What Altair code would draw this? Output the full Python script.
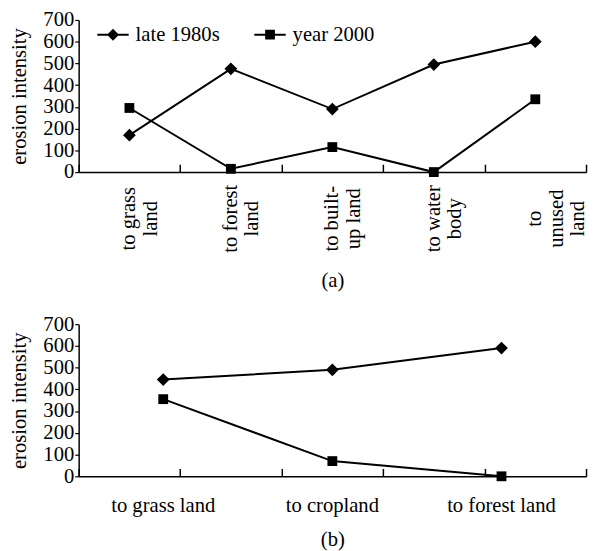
import altair as alt
import pandas as pd

SERIES = ["late 1980s", "year 2000"]

CATS_A = ["to grass|land", "to forest|land", "to built-|up land", "to water|body", "to|unused|land"]
LATE_A = [170, 475, 290, 495, 600]
Y2000_A = [295, 15, 115, 0, 335]

CATS_B = ["to grass land", "to cropland", "to forest land"]
LATE_B = [445, 490, 590]
Y2000_B = [355, 70, 0]

Y_TICKS = [0, 100, 200, 300, 400, 500, 600, 700]
PANEL_TITLES = ["(a)", "(b)"]
Y_TITLE = "erosion intensity"

FONT = "Liberation Serif"
FS = 21
W = 517
H = 155

# legend glyphs: a short line with the marker on it (all filled shapes)
DIAMOND_LEG = "M-1,-0.065H1V0.065H-1ZM0,-0.38L0.38,0L0,0.38L-0.38,0Z"
SQUARE_LEG = "M-1,-0.065H1V0.065H-1ZM-0.31,-0.31H0.31V0.31H-0.31Z"


def long_df(cats, late, y2000):
    rows = []
    for c, v in zip(cats, late):
        rows.append({"category": c, "series": SERIES[0], "value": v})
    for c, v in zip(cats, y2000):
        rows.append({"category": c, "series": SERIES[1], "value": v})
    return pd.DataFrame(rows)


def panel(df, cats, tick_cats, title, rotated):
    xscale = alt.Scale(type="band", domain=cats, paddingInner=0, paddingOuter=0)
    if rotated:
        lab_axis = alt.Axis(labelExpr="split(datum.label, '|')", labelAngle=270,
                            labelAlign="center", labelBaseline="middle",
                            labelPadding=47, labelLineHeight=22, ticks=False, tickSize=0,
                            title=title, titlePadding=18, labelLimit=300)
    else:
        lab_axis = alt.Axis(labelAngle=0, labelAlign="center", labelBaseline="top",
                            labelPadding=19, ticks=False, tickSize=0,
                            title=title, titlePadding=14, labelLimit=300)
    x = alt.X("category:N", sort=cats, scale=xscale, axis=lab_axis)
    y = alt.Y("value:Q", scale=alt.Scale(domain=[0, 700], nice=False),
              axis=alt.Axis(values=Y_TICKS, title=Y_TITLE, grid=False, tickSize=4,
                            labelPadding=1, titlePadding=14))
    base = alt.Chart(df)
    line = base.mark_line(color="black", strokeWidth=2).encode(x=x, y=y, detail="series:N")
    dia = base.transform_filter(alt.datum.series == SERIES[0]).mark_point(
        shape="diamond", size=169, filled=True, color="black", opacity=1).encode(x=x, y=y)
    sq = base.transform_filter(alt.datum.series == SERIES[1]).mark_point(
        shape="square", size=100, filled=True, color="black", opacity=1).encode(x=x, y=y)
    leg = base.mark_point(filled=True, color="black", opacity=0).encode(
        x=x, y=y,
        shape=alt.Shape("series:N",
                        scale=alt.Scale(domain=SERIES, range=[DIAMOND_LEG, SQUARE_LEG]),
                        legend=alt.Legend(orient="none", legendX=19, legendY=-1,
                                          direction="horizontal", title=None,
                                          symbolSize=1024, symbolStrokeWidth=0,
                                          symbolFillColor="black",
                                          symbolOpacity=1, labelFont=FONT, labelFontSize=FS,
                                          labelColor="black", labelOffset=7,
                                          columnPadding=35, padding=0, labelLimit=300)))
    inner = alt.layer(line, dia, sq, leg)
    tick_df = pd.DataFrame({"tick": tick_cats})
    ticks = alt.Chart(tick_df).mark_point(opacity=0).encode(
        x=alt.X("tick:N", sort=tick_cats,
                scale=alt.Scale(type="band", domain=tick_cats, paddingInner=0, paddingOuter=0),
                axis=alt.Axis(orient="top", offset=-H, labels=False, domain=False,
                              ticks=True, tickSize=8, tickWidth=1.5, tickBand="extent",
                              title=None, tickColor="black")))
    return alt.layer(inner, ticks).resolve_scale(x="independent").properties(width=W, height=H)


pa = panel(long_df(CATS_A, LATE_A, Y2000_A), CATS_A, CATS_A, PANEL_TITLES[0], True)
pb = panel(long_df(CATS_B, LATE_B, Y2000_B), CATS_B, CATS_A, PANEL_TITLES[1], False)

chart = alt.vconcat(pa, pb, spacing=23).properties(
    padding={"left": 0, "top": -4, "right": 0, "bottom": 0}
).configure_view(stroke=None).configure_axis(
    labelFont=FONT, labelFontSize=FS, labelColor="black",
    titleFont=FONT, titleFontSize=FS, titleFontWeight="normal", titleColor="black",
    domainColor="black", domainWidth=1.5, tickColor="black", tickWidth=1.2
)

chart.save("out.html", embed_options={"renderer": "svg", "actions": False})
